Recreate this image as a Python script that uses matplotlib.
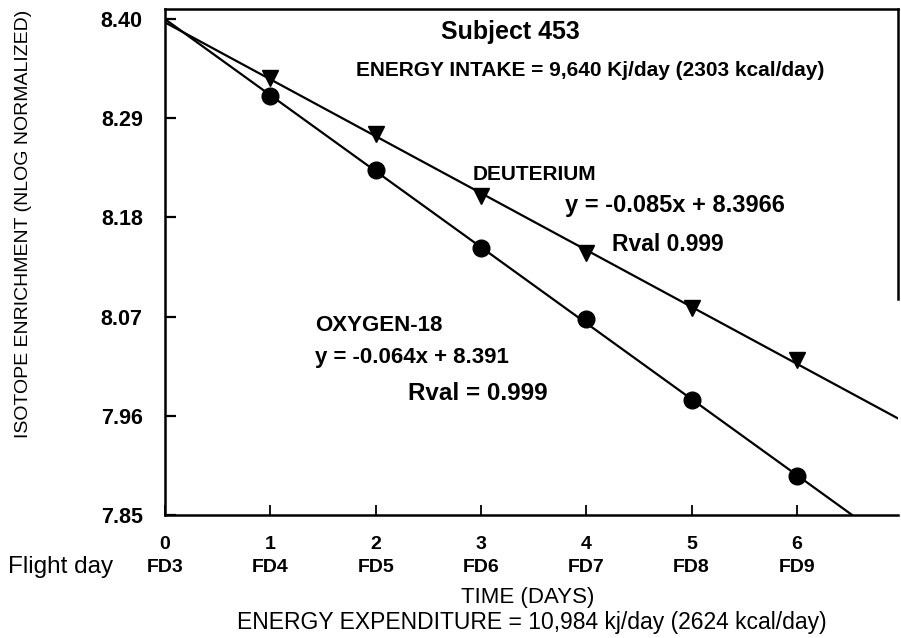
# coding: utf-8
"""Isotope enrichment vs. time, subject 453 (doubly labelled water)"""
import matplotlib
matplotlib.use("Agg")
import matplotlib.pyplot as plt
import numpy as np

plt.rcParams['font.family'] = ['Liberation Sans', 'DejaVu Sans']

# data
days = [1, 2, 3, 4, 5, 6]
deuterium = [8.335, 8.272, 8.204, 8.140, 8.079, 8.022]
oxygen18 = [8.314, 8.232, 8.146, 8.067, 7.977, 7.893]
flight_days = ['FD3', 'FD4', 'FD5', 'FD6', 'FD7', 'FD8', 'FD9']
xtick_vals = [0, 1, 2, 3, 4, 5, 6]
ytick_vals = [7.85, 7.96, 8.07, 8.18, 8.29, 8.40]

W, H = 901, 638
fig = plt.figure(figsize=(W / 100, H / 100), dpi=100)


def px(x, y):
    # pixel position -> figure fraction
    return x / W, 1 - y / H


ax = fig.add_axes([165 / W, 1 - 515 / H, (898 - 165) / W, (515 - 9) / H])
ax.set_xlim(0, 6.96)
ax.set_ylim(7.85, 8.411)

# fitted lines over the whole span, markers on top
xx = np.array([0, 7.2])
for vals, mk, ms in [(deuterium, 'v', 11), (oxygen18, 'o', 12)]:
    k, b = np.polyfit(days, vals, 1)
    ax.plot(xx, k * xx + b, color='black', lw=1.6)
    ax.plot(days, vals, linestyle='none', marker=mk, ms=ms, color='black')

# axes look
ax.spines['right'].set_bounds(8.09, 8.411)
for s in ax.spines.values():
    s.set_linewidth(1.8)
ax.set_yticks(ytick_vals)
ax.set_yticklabels(['%.2f' % v for v in ytick_vals], fontsize=15.5, fontweight='bold')
ax.set_xticks(xtick_vals)
ax.set_xticklabels(['%d\n%s' % (d, f) for d, f in zip(xtick_vals, flight_days)],
                   fontsize=14, fontweight='bold', linespacing=1.45)
ax.tick_params(axis='y', direction='in', length=8, width=1.6, pad=16)
ax.tick_params(axis='x', direction='in', length=7, width=1.3, pad=15)
ax.tick_params(top=False, right=False)

# annotations
fig.text(*px(510, 32), 'Subject 453', ha='center', va='center', fontsize=18, fontweight='bold')
fig.text(*px(590, 70), 'ENERGY INTAKE = 9,640 Kj/day (2303 kcal/day)',
         ha='center', va='center', fontsize=15, fontweight='bold')
fig.text(*px(473, 174), 'DEUTERIUM', ha='left', va='center', fontsize=15, fontweight='bold')
fig.text(*px(565, 205), 'y = -0.085x + 8.3966', ha='left', va='center', fontsize=17, fontweight='bold')
fig.text(*px(612, 245), 'Rval 0.999', ha='left', va='center', fontsize=16.5, fontweight='bold')
fig.text(*px(315, 325), 'OXYGEN-18', ha='left', va='center', fontsize=16, fontweight='bold')
fig.text(*px(315, 357), 'y = -0.064x + 8.391', ha='left', va='center', fontsize=16, fontweight='bold')
fig.text(*px(408, 393), 'Rval = 0.999', ha='left', va='center', fontsize=17.5, fontweight='bold')

fig.text(*px(24, 224), 'ISOTOPE ENRICHMENT (NLOG NORMALIZED)', rotation=90,
         ha='center', va='center', fontsize=14)
fig.text(*px(8, 567), 'Flight day', ha='left', va='center', fontsize=17.5)
fig.text(*px(528, 598), 'TIME (DAYS)', ha='center', va='center', fontsize=16)
fig.text(*px(532, 622), 'ENERGY EXPENDITURE = 10,984 kj/day (2624 kcal/day)',
         ha='center', va='center', fontsize=16.5)

fig.savefig('out.png', dpi=100)
